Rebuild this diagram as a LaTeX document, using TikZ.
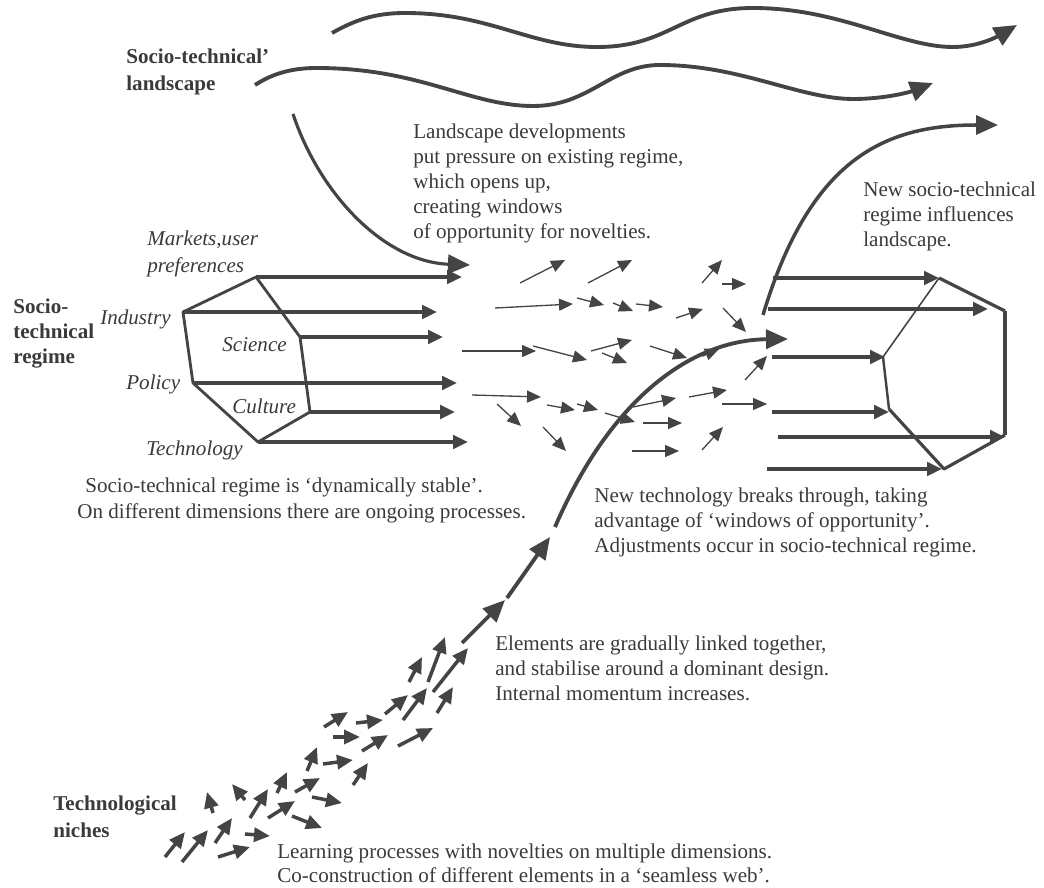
\documentclass[tikz,border=0pt]{standalone}
\usepackage{fontspec}
\setmainfont{Liberation Serif}
\usetikzlibrary{arrows.meta}
\definecolor{mlpgrey}{RGB}{68,68,68}
\definecolor{mlptext}{RGB}{58,58,58}
\tikzset{
  regarrow/.style={line width=2.3pt,-{Triangle[length=0.3cm,width=0.27cm]}},
  hexedge/.style={line width=1.6pt,line join=round},
  thinarrow/.style={line width=0.75pt,-{Triangle[length=0.28cm,width=0.24cm]}},
  nicharrow/.style={line width=2pt,-{Triangle[length=0.32cm,width=0.28cm]}},
  bigarrow/.style={line width=2.2pt,-{Triangle[length=0.44cm,width=0.38cm]}},
  landarrow/.style={line width=2.2pt,-{Triangle[length=0.46cm,width=0.4cm]}},
  txt/.style={inner sep=0pt,text=mlptext,font=\fontsize{12}{14.3}\selectfont},
  block/.style={txt,align=left,anchor=north west},
  levellabel/.style={block,font=\fontsize{12}{15.3}\selectfont\bfseries},
  dimlabel/.style={txt,anchor=west,font=\fontsize{12}{15.3}\selectfont\itshape}
}
\begin{document}
\begin{tikzpicture}[x=0.02cm,y=-0.02cm,color=mlpgrey]
  \useasboundingbox (0,0) rectangle (1044,888);
  % Level labels
  \node[levellabel] (landlabel) at (126,48.5) {Socio-technical’\\landscape};
  \node[levellabel,font=\fontsize{12}{14.2}\selectfont\bfseries] (reglabel) at (13,298.5) {Socio-\\technical\\regime};
  \node[levellabel] (nichelabel) at (53,795.5) {Technological\\niches};

  % Landscape developments (wavy arrows)
  \draw[landarrow] (332,33) .. controls (355,20) and (375,13) .. (405,13)
    .. controls (490,13) and (530,47) .. (597,47)
    .. controls (670,47) and (680,8) .. (753,8)
    .. controls (840,8) and (900,47) .. (953,47)
    .. controls (980,47) and (1000,35) .. (1017,25);
  \draw[landarrow] (255,85) .. controls (275,72) and (295,68) .. (317,68)
    .. controls (420,68) and (470,106) .. (533,106)
    .. controls (590,106) and (610,65) .. (660,65)
    .. controls (740,65) and (800,99) .. (853,99)
    .. controls (885,99) and (910,92) .. (933,83);
  % Pressure of landscape on regime
  \coordinate (pressstart) at (293,114);
  \coordinate (presstip) at (470,265);
  \draw[landarrow,line width=1.8pt,-{Triangle[length=0.44cm,width=0.38cm]}] (pressstart) .. controls (320,195) and (385,262) .. (presstip);

  % Existing regime: hexagon and its dimensions
  \coordinate (mkt) at (256,277);
  \coordinate (ind) at (183,312);
  \coordinate (pol) at (193,383);
  \coordinate (tec) at (258,442);
  \coordinate (cul) at (310,412);
  \coordinate (sci) at (300,337);
  \draw[hexedge] (mkt) -- (ind) -- (pol) -- (tec) -- (cul) -- (sci) -- cycle;
  \foreach \v/\tip in {mkt/462, ind/437, sci/443, pol/457, cul/455, tec/468} {
    \draw[regarrow] (\v) -- (\v -| \tip,0);
  }
  \node[dimlabel,anchor=north west,align=left] (mktlabel) at (147,230.5) {Markets,user\\preferences};
  \node[dimlabel] (indlabel) at (100,319) {Industry};
  \node[dimlabel] (scilabel) at (222,345) {Science};
  \node[dimlabel] (pollabel) at (126,384) {Policy};
  \node[dimlabel] (cullabel) at (232,406) {Culture};
  \node[dimlabel] (teclabel) at (146,450) {Technology};

  % Regime opening up: loose thin arrows
  \foreach \xa/\ya/\xb/\yb in {520/283/565/260, 588/283/632/260, 702/283/722/260, 722/284/746/284,
      495/308/573/304, 577/298/604/305, 613/303/633/311, 636/304/663/307, 676/318/703/309, 723/308/746/332,
      462/351/536/351, 533/346/587/360, 591/351/632/340, 602/353/627/363, 650/346/687/358, 745/380/767/356,
      472/395/541/397, 547/405/575/410, 577/404/598/410, 605/413/635/422, 633/407/676/398, 689/397/727/390,
      722/404/767/404, 497/404/521/426, 543/427/566/451, 643/423/682/423, 632/451/679/451, 702/450/723/427} {
    \draw[thinarrow] (\xa,\ya) -- (\xb,\yb);
  }

  % Niche: small arrows getting aligned
  \foreach \xa/\ya/\xb/\yb in {165/857/185/832, 182/862/208/830, 215/843/232/818, 218/857/250/847,
      245/834/270/836, 213/813/207/792, 245/800/232/784, 250/818/268/789, 268/818/295/801,
      292/816/322/828, 277/793/287/772, 295/792/320/778, 312/797/342/803, 307/771/317/747,
      323/764/353/760, 353/785/368/763, 324/727/348/712, 333/737/360/737, 356/723/383/720,
      362/751/388/735, 398/746/433/728, 385/714/408/695, 403/720/427/688, 437/713/453/687,
      409/682/422/657, 428/682/445/637, 433/692/468/648} {
    \draw[nicharrow] (\xa,\ya) -- (\xb,\yb);
  }

  % Breakthrough of the new technology
  \coordinate (brk1) at (462,643);
  \coordinate (brk2) at (505,600);
  \coordinate (brk3) at (507,598);
  \coordinate (brk4) at (550,537);
  \coordinate (brk5) at (555,527);
  \coordinate (brktip) at (788,339);
  \draw[bigarrow] (brk1) -- (brk2);
  \draw[bigarrow] (brk3) -- (brk4);
  \draw[bigarrow] (brk5) .. controls (610,400) and (690,340) .. (brktip);
  \draw[thinarrow,line width=1pt] (702,356) -- (719,349);

  % New regime: hexagon
  \coordinate (nt) at (939,278);
  \coordinate (nur) at (1005,311);
  \coordinate (nlr) at (1005,435);
  \coordinate (nb) at (944,469);
  \coordinate (nll) at (889,409);
  \coordinate (nul) at (883,357);
  \draw[hexedge,line width=1.8pt] (nt) -- (nur);
  \draw[hexedge,line width=2.8pt] (nur) -- (nlr);
  \draw[hexedge,line width=1.8pt] (nlr) -- (nb) -- (nll);
  \draw[hexedge,line width=1.4pt] (nll) -- (nul);
  \draw[hexedge,line width=0.9pt] (nul) -- (nt);
  \foreach \xs/\y/\xt in {773/278/939, 768/309/988, 772/357/885, 772/412/889, 778/437/1005, 767/469/942} {
    \draw[regarrow] (\xs,\y) -- (\xt,\y);
  }
  % New regime influences landscape
  \coordinate (feedstart) at (763,315);
  \coordinate (feedtip) at (998,125);
  \draw[bigarrow,line width=2pt] (feedstart) .. controls (811,155) and (888,125) .. (feedtip);

  % Explanatory texts
  \node[block] (landtext) at (413,123.5) {Landscape developments\\put pressure on existing regime,\\which opens up,\\creating windows\\of opportunity for novelties.};
  \node[block] (feedtext) at (863,181.5) {New socio-technical\\regime influences\\landscape.};
  \node[block,font=\fontsize{12}{14.7}\selectfont] (stabletext) at (77,477.5) {\hspace*{0.16cm}Socio-technical regime is ‘dynamically stable’.\\On different dimensions there are ongoing processes.};
  \node[block] (brktext) at (594,487.5) {New technology breaks through, taking\\advantage of ‘windows of opportunity’.\\Adjustments occur in socio-technical regime.};
  \node[block] (linktext) at (495,635.5) {Elements are gradually linked together,\\and stabilise around a dominant design.\\Internal momentum increases.};
  \node[block,font=\fontsize{12}{13.8}\selectfont] (learntext) at (277,843.5) {Learning processes with novelties on multiple dimensions.\\Co-construction of different elements in a ‘seamless web’.};
\end{tikzpicture}
\end{document}
